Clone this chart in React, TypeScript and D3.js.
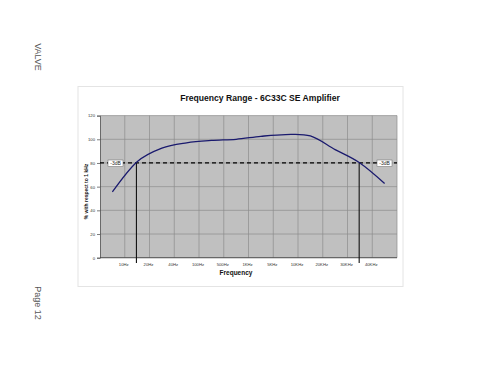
import React, { useEffect, useRef } from "react";
import * as d3 from "d3";

// category labels sit on the gridlines between the 12 data bands
const freqLabels = ["10Hz", "20Hz", "40Hz", "100Hz", "500Hz", "1KHz", "5KHz", "10KHz", "20KHz", "30KHz", "40KHz"];
const response = [55.5, 81, 92.5, 97, 99, 100, 102.5, 104, 102.8, 91.3, 80, 62.7];
const yTicks = [0, 20, 40, 60, 80, 100, 120];
const cutoffLevel = 80;
const cutoffIdx = [1, 10];

const App = () => {
  const svgRef = useRef<SVGSVGElement>(null);

  useEffect(() => {
    const svg = d3.select(svgRef.current);
    svg.selectAll("*").remove();

    const left = 100, right = 397, top = 115.6, bottom = 257.7;
    const x = d3.scaleLinear().domain([0, response.length]).range([left, right]);
    const y = d3.scaleLinear().domain([0, 120]).range([bottom, top]);
    const font = "Liberation Sans, Arial";

    // page furniture
    svg.append("rect").attr("x", 0).attr("y", 0).attr("width", 480).attr("height", 371).attr("fill", "#fff");
    svg.append("rect").attr("x", 78).attr("y", 86.5).attr("width", 325).attr("height", 200)
      .attr("fill", "none").attr("stroke", "#e4e4e4").attr("stroke-width", 1);
    svg.append("text").attr("transform", "translate(35,57) rotate(90)")
      .attr("text-anchor", "middle").attr("font-family", font).attr("font-size", 9)
      .attr("fill", "#555").text("VALVE");
    svg.append("text").attr("transform", "translate(35,303) rotate(90)")
      .attr("text-anchor", "middle").attr("font-family", font).attr("font-size", 9)
      .attr("fill", "#555").text("Page 12");

    // plot area
    svg.append("rect").attr("x", left).attr("y", top).attr("width", right - left).attr("height", bottom - top)
      .attr("fill", "#c0c0c0");

    const grid = svg.append("g").attr("stroke", "#8c8c8c").attr("stroke-width", 0.7);
    grid.selectAll("line.h").data(yTicks).join("line")
      .attr("x1", left).attr("x2", right).attr("y1", (d) => y(d)).attr("y2", (d) => y(d));
    grid.selectAll("line.v").data(d3.range(1, response.length + 1)).join("line")
      .attr("x1", (d) => x(d)).attr("x2", (d) => x(d)).attr("y1", top).attr("y2", bottom);

    // axes
    const yAxis = d3.axisLeft(y).tickValues(yTicks).tickSize(3).tickPadding(2);
    const gy = svg.append("g").attr("transform", `translate(${left},0)`).call(yAxis);
    gy.select(".domain").attr("stroke", "#444").attr("stroke-width", 0.7);
    gy.selectAll(".tick line").attr("stroke", "#444").attr("stroke-width", 0.7);
    gy.selectAll("text").attr("font-family", font).attr("font-size", 4.2).attr("fill", "#333");

    svg.append("line").attr("x1", left).attr("x2", right).attr("y1", bottom).attr("y2", bottom)
      .attr("stroke", "#444").attr("stroke-width", 0.8);
    svg.append("g").selectAll("text").data(freqLabels).join("text")
      .attr("x", (d, i) => x(i + 1) - 1).attr("y", 265.5).attr("text-anchor", "middle")
      .attr("font-family", font).attr("font-size", 4.2).attr("fill", "#333").text((d) => d);

    // cutoff markers
    svg.append("line").attr("x1", left).attr("x2", right).attr("y1", y(cutoffLevel)).attr("y2", y(cutoffLevel))
      .attr("stroke", "#000").attr("stroke-width", 1.3).attr("stroke-dasharray", "4,3");
    svg.append("g").selectAll("line").data(cutoffIdx).join("line")
      .attr("x1", (d) => x(d + 0.5) - 0.7).attr("x2", (d) => x(d + 0.5) - 0.7)
      .attr("y1", y(cutoffLevel)).attr("y2", 263).attr("stroke", "#111").attr("stroke-width", 1.1);

    const boxes = [108, 377];
    boxes.forEach((bx) => {
      svg.append("rect").attr("x", bx).attr("y", 160).attr("width", 15).attr("height", 6.5)
        .attr("fill", "#fff").attr("stroke", "#666").attr("stroke-width", 0.5);
      svg.append("text").attr("x", bx + 7.5).attr("y", 165).attr("text-anchor", "middle")
        .attr("font-family", font).attr("font-size", 5).attr("fill", "#222").text("-3dB");
    });

    // response curve
    const line = d3.line<number>()
      .x((d, i) => x(i + 0.5))
      .y((d) => y(d))
      .curve(d3.curveCatmullRom.alpha(0));
    svg.append("path").datum(response).attr("d", line).attr("fill", "none")
      .attr("stroke", "#1a1a6e").attr("stroke-width", 1.3);

    // titles
    svg.append("text").attr("x", 260).attr("y", 101).attr("text-anchor", "middle")
      .attr("font-family", font).attr("font-weight", "bold").attr("font-size", 8.6)
      .attr("fill", "#111").text("Frequency Range - 6C33C SE  Amplifier");
    svg.append("text").attr("x", 236).attr("y", 275).attr("text-anchor", "middle")
      .attr("font-family", font).attr("font-weight", "bold").attr("font-size", 6.5)
      .attr("fill", "#111").text("Frequency");
    svg.append("text").attr("transform", "translate(88,191.5) rotate(-90)").attr("text-anchor", "middle")
      .attr("font-family", font).attr("font-weight", "bold").attr("font-size", 5)
      .attr("fill", "#111").text("% with respect to 1 kHz");
  }, []);

  return (
    <svg ref={svgRef} width={480} height={371} style={{ position: "absolute", left: 0, top: 0 }}></svg>
  );
};

export default App;
